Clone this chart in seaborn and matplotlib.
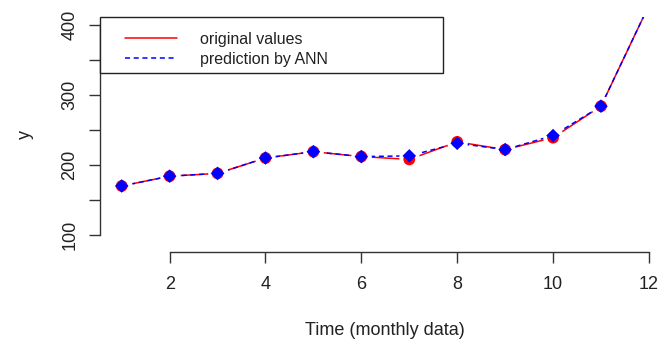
import matplotlib
matplotlib.use("Agg")
import matplotlib.pyplot as plt
import seaborn as sns
import pandas as pd
from matplotlib.lines import Line2D
from matplotlib.patches import Rectangle

# data
months = [1, 2, 3, 4, 5, 6, 7, 8, 9, 10, 11, 12]
original = [170, 184, 188, 210, 219, 212, 208, 233, 222, 239, 284, 428]
predicted = [170, 184, 188, 210, 219, 212, 213, 231, 222, 242, 284, 428]
legend_labels = ["original values", "prediction by ANN"]
x_ticks = [2, 4, 6, 8, 10, 12]
y_ticks = [100, 150, 200, 250, 300, 350, 400]
y_ticklabels = ["100", "", "200", "", "300", "", "400"]

df = pd.DataFrame({"month": months, "orig": original, "pred": predicted})

sns.set_style("white")
plt.rcParams["font.family"] = ["Liberation Sans", "DejaVu Sans"]

W, H = 672, 344
fig = plt.figure(figsize=(W / 100, H / 100), dpi=100)
ax = fig.add_axes([100 / W, 1 - 252 / H, 570 / W, 235 / H])

dash = (0, (3.3, 2.4))
sns.lineplot(data=df, x="month", y="orig", color="red", lw=1.1, ax=ax, zorder=2)
sns.lineplot(data=df, x="month", y="pred", color="blue", lw=1.1, ax=ax, zorder=3,
             linestyle=dash)
# gaps around points (R type = "b")
ax.plot(df["month"], df["orig"], linestyle="none", marker="o", ms=14.5,
        mfc="white", mec="none", zorder=4)
ax.plot(df["month"], df["pred"], linestyle="none", marker="o", ms=14.5,
        mfc="white", mec="none", zorder=4)
sns.scatterplot(data=df, x="month", y="orig", color="red", s=72, marker="o",
                edgecolor="none", ax=ax, zorder=5)
sns.scatterplot(data=df, x="month", y="pred", color="blue", s=48, marker="D",
                edgecolor="none", ax=ax, zorder=6)

ax.set_xlim(0.547, 12.44)
ax.set_ylim(75.7, 411.4)

for s in ["top", "right"]:
    ax.spines[s].set_visible(False)
ax.spines["left"].set_bounds(100, 400)
ax.spines["bottom"].set_bounds(2, 12)
for s in ["left", "bottom"]:
    ax.spines[s].set_color("#333333")
    ax.spines[s].set_linewidth(1.0)

ax.set_xticks(x_ticks)
ax.set_yticks(y_ticks)
ax.set_yticklabels(y_ticklabels, rotation=90, va="center")
ax.tick_params(axis="both", direction="out", length=7.6, width=1.0, color="#333333",
               labelsize=13, labelcolor="#222222", bottom=True, left=True)
ax.tick_params(axis="x", pad=9.5)
ax.tick_params(axis="y", pad=8)
ax.set_xlabel("Time (monthly data)", fontsize=13, color="#222222", labelpad=21)
ax.set_ylabel("y", fontsize=13, color="#222222", labelpad=20)

# legend frame (R style box)
fig.patches.append(Rectangle((100 / W, 1 - 73 / H), 343 / W, 56 / H,
                             transform=fig.transFigure, fill=True, facecolor="white",
                             edgecolor="#222222", lw=1.0, zorder=10))
handles = [Line2D([], [], color="red", lw=1.1),
           Line2D([], [], color="blue", lw=1.1, linestyle=dash)]
leg = fig.legend(handles, legend_labels, loc="upper left",
                 bbox_to_anchor=(125 / W, 1 - 32 / H),
                 frameon=False, fontsize=11.5, borderpad=0, borderaxespad=0,
                 handlelength=3.25, handletextpad=1.45, labelspacing=0.3)
leg.set_zorder(11)
for t in leg.get_texts():
    t.set_color("#222222")

fig.savefig("out.png", dpi=100)
